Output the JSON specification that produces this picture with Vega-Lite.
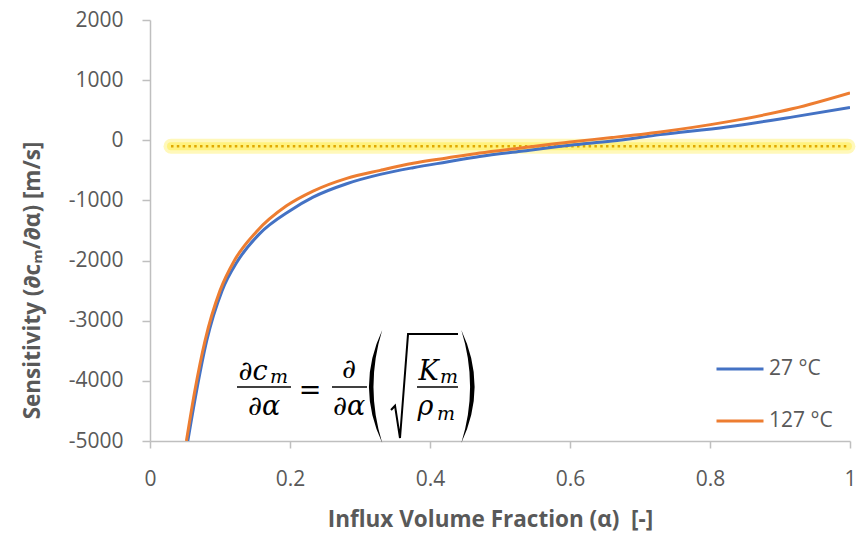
{
  "$schema": "https://vega.github.io/schema/vega-lite/v6.json",
  "autosize": "none",
  "width": 700,
  "height": 421,
  "padding": {"left": 150, "top": 20, "right": 17, "bottom": 93},
  "background": "white",
  "config": {
    "view": {"stroke": null},
    "axis": {
      "grid": false,
      "labelFont": "Open Sans",
      "labelFontSize": 21,
      "labelColor": "#595959",
      "titleFont": "Open Sans",
      "titleFontSize": 22.5,
      "titleFontWeight": "bold",
      "titleColor": "#595959",
      "domainColor": "#BFBFBF",
      "domainWidth": 1.5,
      "tickColor": "#BFBFBF",
      "tickWidth": 1.5
    }
  },
  "datasets": {
    "curves": [
      {"a": 0.054, "v": -5000, "series": "27 °C"},
      {"a": 0.0665, "v": -4167, "series": "27 °C"},
      {"a": 0.081, "v": -3333, "series": "27 °C"},
      {"a": 0.103, "v": -2500, "series": "27 °C"},
      {"a": 0.1245, "v": -2020, "series": "27 °C"},
      {"a": 0.156, "v": -1560, "series": "27 °C"},
      {"a": 0.2, "v": -1170, "series": "27 °C"},
      {"a": 0.233, "v": -945, "series": "27 °C"},
      {"a": 0.281, "v": -722, "series": "27 °C"},
      {"a": 0.329, "v": -567, "series": "27 °C"},
      {"a": 0.376, "v": -456, "series": "27 °C"},
      {"a": 0.424, "v": -361, "series": "27 °C"},
      {"a": 0.471, "v": -270, "series": "27 °C"},
      {"a": 0.53, "v": -183, "series": "27 °C"},
      {"a": 0.6, "v": -83, "series": "27 °C"},
      {"a": 0.66, "v": -12, "series": "27 °C"},
      {"a": 0.729, "v": 94, "series": "27 °C"},
      {"a": 0.824, "v": 222, "series": "27 °C"},
      {"a": 0.919, "v": 389, "series": "27 °C"},
      {"a": 1.0, "v": 544, "series": "27 °C"},
      {"a": 0.052, "v": -5000, "series": "127 °C"},
      {"a": 0.064, "v": -4167, "series": "127 °C"},
      {"a": 0.0786, "v": -3333, "series": "127 °C"},
      {"a": 0.1, "v": -2500, "series": "127 °C"},
      {"a": 0.121, "v": -1990, "series": "127 °C"},
      {"a": 0.152, "v": -1520, "series": "127 °C"},
      {"a": 0.195, "v": -1090, "series": "127 °C"},
      {"a": 0.233, "v": -845, "series": "127 °C"},
      {"a": 0.281, "v": -633, "series": "127 °C"},
      {"a": 0.329, "v": -500, "series": "127 °C"},
      {"a": 0.376, "v": -383, "series": "127 °C"},
      {"a": 0.424, "v": -295, "series": "127 °C"},
      {"a": 0.471, "v": -211, "series": "127 °C"},
      {"a": 0.53, "v": -128, "series": "127 °C"},
      {"a": 0.6, "v": -28, "series": "127 °C"},
      {"a": 0.66, "v": 45, "series": "127 °C"},
      {"a": 0.729, "v": 139, "series": "127 °C"},
      {"a": 0.824, "v": 306, "series": "127 °C"},
      {"a": 0.919, "v": 528, "series": "127 °C"},
      {"a": 1.0, "v": 789, "series": "127 °C"}
    ],
    "marker": [{"a": 0.03, "a2": 0.997, "v": -100}],
    "eqMain": [
      {"a": 0.1471, "v": -3986, "t": "∂c"},
      {"a": 0.1629, "v": -4568, "t": "∂α"},
      {"a": 0.2843, "v": -3952, "t": "∂"},
      {"a": 0.2843, "v": -4568, "t": "∂α"},
      {"a": 0.3979, "v": -3986, "t": "K"},
      {"a": 0.3936, "v": -4568, "t": "ρ"}
    ],
    "eqSub": [
      {"a": 0.1843, "v": -4036, "t": "m"},
      {"a": 0.4271, "v": -4036, "t": "m"},
      {"a": 0.4229, "v": -4651, "t": "m"}
    ],
    "eqEquals": [{"a": 0.2286, "v": -4302, "t": "="}],
    "eqBars": [
      {"a": 0.1243, "a2": 0.2014, "v": -4102},
      {"a": 0.26, "a2": 0.31, "v": -4102},
      {"a": 0.3814, "a2": 0.44, "v": -4102}
    ],
    "eqOpen": [{"a": 0.3229, "v": -4094}],
    "eqClose": [{"a": 0.4536, "v": -4094}],
    "eqRoot": [{"a": 0.3936, "v": -4094}]
  },
  "encoding": {
    "x": {
      "field": "a",
      "type": "quantitative",
      "scale": {"domain": [0, 1], "nice": false, "zero": false},
      "axis": {
        "values": [0, 0.2, 0.4, 0.6, 0.8, 1],
        "format": "~g",
        "tickSize": 7,
        "labelPadding": 20,
        "labelFlush": false,
        "labelBound": false,
        "labelOverlap": false,
        "title": "Influx Volume Fraction (α)\u00a0\u00a0[-]",
        "titleX": 340,
        "titleY": 78,
        "titleAlign": "center",
        "titleBaseline": "middle"
      }
    },
    "y": {
      "field": "v",
      "type": "quantitative",
      "scale": {"domain": [-5000, 2000], "nice": false, "zero": false},
      "axis": {
        "values": [-5000, -4000, -3000, -2000, -1000, 0, 1000, 2000],
        "labelExpr": "'' + datum.value",
        "tickSize": 8,
        "labelPadding": 19,
        "labelFlush": false,
        "labelBound": false,
        "labelOverlap": false,
        "title": "Sensitivity (∂cₘ/∂α) [m/s]",
        "titleAngle": -90,
        "titleX": -118,
        "titleY": 260,
        "titleAlign": "center",
        "titleBaseline": "middle"
      }
    }
  },
  "layer": [
    {
      "data": {"name": "marker"},
      "mark": {"type": "rule", "color": "#FFF59D", "strokeWidth": 15, "strokeCap": "round", "opacity": 0.7},
      "encoding": {"x2": {"field": "a2"}}
    },
    {
      "data": {"name": "marker"},
      "mark": {"type": "rule", "color": "#FFEE58", "strokeWidth": 8, "strokeCap": "round", "opacity": 0.6},
      "encoding": {"x2": {"field": "a2"}}
    },
    {
      "data": {"name": "marker"},
      "mark": {"type": "rule", "color": "#E0A800", "strokeWidth": 2.5, "strokeDash": [2.5, 3.3]},
      "encoding": {"x2": {"field": "a2"}}
    },
    {
      "data": {"name": "curves"},
      "mark": {"type": "line", "strokeWidth": 3, "interpolate": "monotone", "clip": true},
      "encoding": {
        "color": {
          "field": "series",
          "type": "nominal",
          "sort": null,
          "scale": {"domain": ["27 °C", "127 °C"], "range": ["#4472C4", "#ED7D31"]},
          "legend": {
            "orient": "none",
            "legendX": 565,
            "legendY": 324,
            "title": null,
            "symbolType": "stroke",
            "symbolSize": 2209,
            "symbolStrokeWidth": 3,
            "labelFont": "Open Sans",
            "labelFontSize": 21,
            "labelColor": "#595959",
            "labelOffset": 4,
            "rowPadding": 17,
            "padding": 0
          }
        }
      }
    },
    {
      "data": {"name": "eqMain"},
      "mark": {"type": "text", "font": "DejaVu Serif", "fontStyle": "italic", "fontSize": 27, "color": "black", "align": "center", "baseline": "alphabetic"},
      "encoding": {"text": {"field": "t"}}
    },
    {
      "data": {"name": "eqSub"},
      "mark": {"type": "text", "font": "DejaVu Serif", "fontStyle": "italic", "fontSize": 19, "color": "black", "align": "center", "baseline": "alphabetic"},
      "encoding": {"text": {"field": "t"}}
    },
    {
      "data": {"name": "eqEquals"},
      "mark": {"type": "text", "font": "DejaVu Serif", "fontSize": 27, "color": "black", "align": "center", "baseline": "alphabetic"},
      "encoding": {"text": {"field": "t"}}
    },
    {
      "data": {"name": "eqBars"},
      "mark": {"type": "rule", "color": "black", "strokeWidth": 1.6},
      "encoding": {"x2": {"field": "a2"}}
    },
    {
      "data": {"name": "eqOpen"},
      "mark": {"type": "point", "shape": "M 0.11 -1 Q -0.36 0 0.11 1 Q -0.2 0 0.11 -1 Z", "filled": true, "color": "black", "opacity": 1, "size": 12769}
    },
    {
      "data": {"name": "eqClose"},
      "mark": {"type": "point", "shape": "M -0.11 -1 Q 0.36 0 -0.11 1 Q 0.2 0 -0.11 -1 Z", "filled": true, "color": "black", "opacity": 1, "size": 12769}
    },
    {
      "data": {"name": "eqRoot"},
      "mark": {"type": "point", "shape": "M -0.645 0.44 L -0.57 0.36 L -0.477 0.963 L -0.327 -0.98 L 0.607 -0.98", "filled": false, "color": "black", "strokeWidth": 2, "opacity": 1, "size": 11449}
    }
  ]
}
